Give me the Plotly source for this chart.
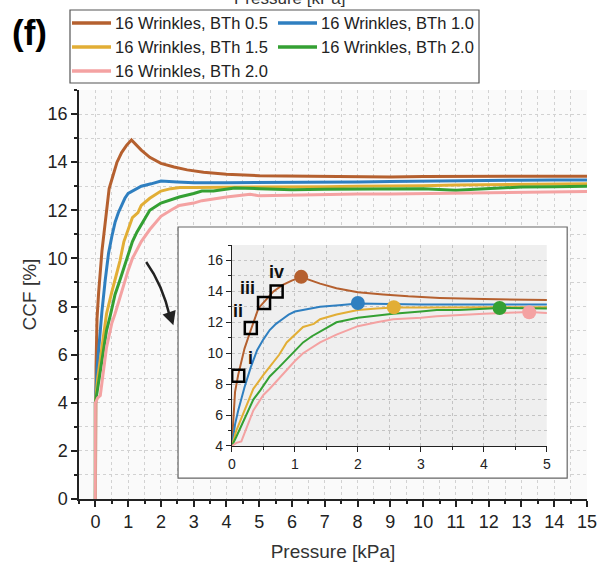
import plotly.graph_objects as go

# ---------------- data ----------------
names = ["16 Wrinkles, BTh 0.5", "16 Wrinkles, BTh 1.0", "16 Wrinkles, BTh 1.5",
         "16 Wrinkles, BTh 2.0", "16 Wrinkles, BTh 2.0"]
colors = ["#b5602f", "#2f7fc0", "#e2ae35", "#34a033", "#f4a2a2"]

x_bth05 = [0, 0, 0.02, 0.05, 0.1, 0.2, 0.3, 0.42, 0.55, 0.66, 0.8, 0.95, 1.1, 1.25, 1.4, 1.66,
           2.0, 2.4, 2.8, 3.3, 4.0, 5.0, 6.0, 7.0, 8.0, 9.0, 10.0, 11.0, 12.0, 13.0, 14.0, 15.0]
y_bth05 = [0, 4.0, 5.5, 7.5, 8.6, 10.3, 11.5, 12.9, 13.5, 14.0, 14.4, 14.7, 14.92, 14.7, 14.5, 14.2,
           13.95, 13.8, 13.68, 13.58, 13.5, 13.44, 13.42, 13.4, 13.38, 13.38, 13.4, 13.4, 13.42, 13.42, 13.42, 13.42]

x_bth10 = [0, 0, 0.05, 0.1, 0.2, 0.3, 0.4, 0.5, 0.6, 0.7, 0.8, 0.9, 1.0, 1.2, 1.4, 1.7, 2.0, 2.5,
           3.0, 4.0, 5.0, 6.0, 7.0, 8.0, 9.0, 10.0, 11.0, 12.0, 13.0, 14.0, 15.0]
y_bth10 = [0, 4.0, 5.4, 6.3, 7.8, 9.1, 10.2, 10.9, 11.5, 11.9, 12.2, 12.5, 12.7, 12.85, 13.0, 13.1, 13.22, 13.18,
           13.15, 13.15, 13.15, 13.17, 13.17, 13.18, 13.2, 13.22, 13.24, 13.25, 13.25, 13.26, 13.26]

x_bth15 = [0, 0, 0.07, 0.2, 0.34, 0.5, 0.6, 0.75, 0.87, 1.0, 1.13, 1.3, 1.4, 1.66, 2.0, 2.3, 2.57, 3.0,
           4.0, 5.0, 6.0, 7.0, 8.0, 9.0, 10.0, 11.0, 12.0, 13.0, 14.0, 15.0]
y_bth15 = [0, 4.0, 5.0, 6.3, 7.7, 8.6, 9.1, 9.9, 10.7, 11.2, 11.7, 11.9, 12.2, 12.5, 12.8, 12.9, 12.95, 12.95,
           12.95, 12.96, 12.97, 12.98, 13.0, 13.0, 13.02, 13.05, 13.07, 13.08, 13.1, 13.1]

x_bth20 = [0, 0, 0.07, 0.2, 0.34, 0.45, 0.6, 0.75, 0.87, 1.0, 1.13, 1.27, 1.4, 1.66, 2.0, 2.3, 2.56, 3.0,
           3.25, 3.6, 4.25, 5.0, 6.0, 7.0, 8.0, 9.0, 10.0, 11.0, 12.0, 13.0, 14.0, 15.0]
y_bth20 = [0, 4.0, 4.6, 5.8, 7.0, 7.6, 8.5, 9.1, 9.6, 10.2, 10.7, 11.1, 11.4, 12.0, 12.3, 12.45, 12.55, 12.7,
           12.8, 12.8, 12.93, 12.9, 12.85, 12.87, 12.88, 12.9, 12.9, 12.83, 12.9, 12.97, 12.98, 13.0]

x_bth20b = [0, 0, 0.07, 0.15, 0.34, 0.5, 0.6, 0.75, 0.87, 1.0, 1.13, 1.4, 1.66, 2.0, 2.3, 2.56, 3.0, 3.25,
            4.0, 4.72, 5.0, 6.0, 7.0, 8.0, 9.0, 10.0, 11.0, 12.0, 13.0, 14.0, 15.0]
y_bth20b = [0, 4.0, 4.2, 4.3, 6.3, 7.3, 7.7, 8.4, 8.9, 9.5, 10.0, 10.7, 11.2, 11.75, 12.0, 12.2, 12.3, 12.4,
            12.55, 12.67, 12.6, 12.63, 12.65, 12.68, 12.68, 12.7, 12.7, 12.71, 12.73, 12.76, 12.78]

series_x = [x_bth05, x_bth10, x_bth15, x_bth20, x_bth20b]
series_y = [y_bth05, y_bth10, y_bth15, y_bth20, y_bth20b]

# highlighted points in inset (one circle per curve)
peak_x = [1.1, 2.0, 2.57, 4.25, 4.72]
peak_y = [14.94, 13.25, 12.97, 12.93, 12.65]

# square markers on the BTh 0.5 curve
sq_x = [0.1, 0.3, 0.51, 0.71]
sq_y = [8.54, 11.63, 13.25, 14.0]
sq_labels = ["i", "ii", "iii", "iv"]
lab_x = [0.29, 0.1, 0.24, 0.71]
lab_y = [9.7, 12.7, 14.25, 15.28]

main_xticks = list(range(0, 16))
main_yticks = list(range(0, 17, 2))
inset_xticks = list(range(0, 6))
inset_yticks = list(range(4, 17, 2))

FONT = "Liberation Sans, Arial, sans-serif"

# plot-area geometry in pixels (for placing paper-referenced decorations)
ML, MR, MT, MB, W, H = 79, 14, 90, 65, 601, 564
PW, PH = W - ML - MR, H - MT - MB


def px(xp):
    return (xp - ML) / PW


def py(yp):
    return (H - MB - yp) / PH


fig = go.Figure()

# main traces
for xs, ys, c, n in zip(series_x, series_y, colors, names):
    fig.add_trace(go.Scatter(x=xs, y=ys, mode="lines", name=n, showlegend=False,
                             line=dict(color=c, width=3), xaxis="x", yaxis="y"))

# dummy trace to create white inset box subplot
fig.add_trace(go.Scatter(x=[None], y=[None], xaxis="x2", yaxis="y2", showlegend=False,
                         hoverinfo="skip"))

# inset traces
for xs, ys, c in zip(series_x, series_y, colors):
    fig.add_trace(go.Scatter(x=xs, y=ys, mode="lines", showlegend=False,
                             line=dict(color=c, width=2), xaxis="x3", yaxis="y3"))
fig.add_trace(go.Scatter(x=peak_x, y=peak_y, mode="markers", showlegend=False,
                         marker=dict(color=colors, size=14), xaxis="x3", yaxis="y3"))
fig.add_trace(go.Scatter(x=sq_x, y=sq_y, mode="markers", showlegend=False,
                         marker=dict(symbol="square-open", color="black", size=12,
                                     line=dict(width=2.5, color="black")),
                         xaxis="x3", yaxis="y3"))

grid_main = "#d2d2d2"
grid_inset = "#c4c4c4"
dash = "3px,3px"

fig.update_layout(
    width=W, height=H,
    margin=dict(l=ML, r=MR, t=MT, b=MB),
    paper_bgcolor="white", plot_bgcolor="white",
    font=dict(family=FONT, color="#222"),
    showlegend=False,
    xaxis=dict(domain=[0, 1], range=[-0.5, 15], tickvals=main_xticks, ticks="outside",
               ticklen=6, tickwidth=1.5, tickcolor="#222", showline=True, linecolor="#222",
               linewidth=1.5, zeroline=False, showgrid=True, gridcolor=grid_main, griddash=dash,
               gridwidth=1, tickfont=dict(size=18),
               minor=dict(dtick=0.5, tick0=0, ticks="outside", ticklen=3, tickcolor="#222",
                          showgrid=True, gridcolor=grid_main, griddash=dash, gridwidth=1),
               title=dict(text="Pressure [kPa]", font=dict(size=19, color="#333"), standoff=13),
               anchor="y", automargin=False),
    yaxis=dict(domain=[0, 1], range=[0, 17], tickvals=main_yticks, ticks="outside",
               ticklen=6, tickwidth=1.5, tickcolor="#222", showline=True, linecolor="#222",
               linewidth=1.5, zeroline=False, showgrid=True, gridcolor=grid_main, griddash=dash,
               gridwidth=1, tickfont=dict(size=18),
               minor=dict(dtick=1, tick0=0, ticks="outside", ticklen=3, tickcolor="#222",
                          showgrid=True, gridcolor=grid_main, griddash=dash, gridwidth=1),
               title=dict(text="CCF [%]", font=dict(size=19, color="#333"), standoff=6),
               anchor="x", automargin=False),
    xaxis2=dict(domain=[0.195, 0.961], range=[0, 1], visible=False, anchor="y2", fixedrange=True),
    yaxis2=dict(domain=[0.051, 0.665], range=[0, 1], visible=False, anchor="x2", fixedrange=True),
    xaxis3=dict(domain=[0.301, 0.921], range=[0, 5], tickvals=inset_xticks, ticks="outside",
                ticklen=5, tickwidth=1.2, tickcolor="#222", showline=True, linecolor="#222",
                linewidth=1.2, zeroline=False, showgrid=True, gridcolor=grid_inset, griddash=dash,
                tickfont=dict(size=14),
                minor=dict(dtick=0.5, tick0=0, ticks="outside", ticklen=3, tickcolor="#222",
                           showgrid=True, gridcolor=grid_inset, griddash=dash),
                anchor="y3", automargin=False),
    yaxis3=dict(domain=[0.1296, 0.621], range=[4, 17], tickvals=inset_yticks, ticks="outside",
                ticklen=5, tickwidth=1.2, tickcolor="#222", showline=True, linecolor="#222",
                linewidth=1.2, zeroline=False, showgrid=True, gridcolor=grid_inset, griddash=dash,
                tickfont=dict(size=14),
                minor=dict(dtick=1, tick0=0, ticks="outside", ticklen=3, tickcolor="#222",
                           showgrid=True, gridcolor=grid_inset, griddash=dash),
                anchor="x3", automargin=False),
)

shapes = [
    # main plot background
    dict(type="rect", xref="paper", yref="paper", x0=0, x1=1, y0=0, y1=1,
         fillcolor="#fafafa", line=dict(width=0), layer="below"),
    # white inset box (in subplot x2y2)
    dict(type="rect", xref="x2", yref="y2", x0=0, x1=1, y0=0, y1=1,
         fillcolor="white", line=dict(width=0), layer="below"),
    # inset plot background
    dict(type="rect", xref="x3", yref="y3", x0=0, x1=5, y0=4, y1=17,
         fillcolor="#efefef", line=dict(width=0), layer="below"),
    # inset box border
    dict(type="rect", xref="paper", yref="paper", x0=0.195, x1=0.961, y0=0.051, y1=0.665,
         line=dict(color="#666", width=1.2), fillcolor="rgba(0,0,0,0)", layer="above"),
    # curved arrow shaft
    dict(type="path", xref="x", yref="y", path="M 1.55,9.85 Q 2.05,8.9 2.28,7.55",
         line=dict(color="#222", width=2.5), layer="above"),
    # legend box
    dict(type="rect", xref="paper", yref="paper", x0=px(70), x1=px(479), y0=py(83), y1=py(10),
         line=dict(color="#555", width=1.2), fillcolor="white", layer="above"),
]

annotations = [
    dict(xref="x", yref="y", axref="x", ayref="y", x=2.38, y=7.22, ax=2.24, ay=7.8,
         text="", showarrow=True, arrowhead=2, arrowsize=1.1, arrowwidth=2.5, arrowcolor="#222"),
    dict(xref="paper", yref="paper", x=px(10), y=py(33), xanchor="left", yanchor="middle",
         text="<b>(f)</b>", showarrow=False, font=dict(size=35, color="black", family=FONT)),
    # top axis title, cut by the top edge of the figure as in the original
    dict(xref="paper", yref="paper", x=px(290), y=py(10), xanchor="center", yanchor="bottom",
         text="Pressure [kPa]", showarrow=False, font=dict(size=17, color="#333", family=FONT)),
]

# legend (manual, two columns)
col_x = [72, 278]
row_y = [23, 47, 71]
for i, (n, c) in enumerate(zip(names, colors)):
    cx = col_x[i % 2]
    ry = row_y[i // 2]
    shapes.append(dict(type="line", xref="paper", yref="paper", x0=px(cx), x1=px(cx + 39),
                       y0=py(ry), y1=py(ry), line=dict(color=c, width=3.5), layer="above"))
    annotations.append(dict(xref="paper", yref="paper", x=px(cx + 41), y=py(ry),
                            xanchor="left", yanchor="middle", text=n, showarrow=False,
                            font=dict(size=16.5, color="#222", family=FONT)))

for t, lx, ly in zip(sq_labels, lab_x, lab_y):
    annotations.append(dict(xref="x3", yref="y3", x=lx, y=ly, text="<b>%s</b>" % t,
                            showarrow=False, font=dict(size=18, color="#111", family=FONT)))

fig.update_layout(shapes=shapes, annotations=annotations)

fig.write_html("out.html")
